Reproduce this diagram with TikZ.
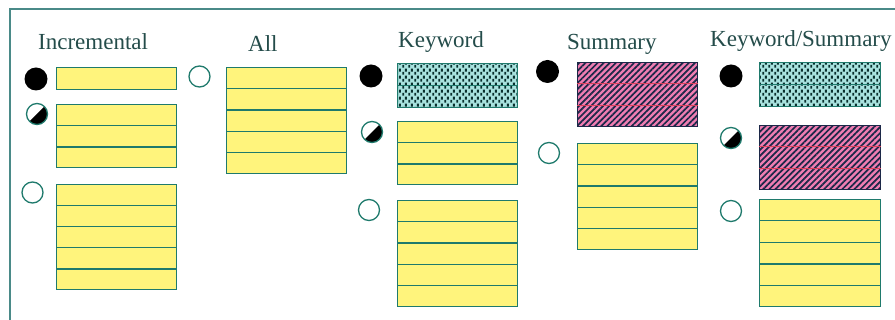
\documentclass[tikz,border=0pt]{standalone}
\usepackage{fontspec}
\setmainfont{Liberation Serif}
\usetikzlibrary{patterns,patterns.meta,calc}
\definecolor{boxfill}{HTML}{FFF47C}
\definecolor{edge}{HTML}{1F7A6C}
\definecolor{txtc}{HTML}{244C4A}
\definecolor{framec}{HTML}{4A8A88}
\definecolor{kwcyan}{HTML}{A8E2DE}
\definecolor{kwdot}{HTML}{082E2C}
\definecolor{pinkc}{HTML}{F07DB2}
\definecolor{sline}{HTML}{1C2848}
\definecolor{sdiv}{HTML}{D8405A}
\pgfdeclarepatternformonly{kwdots}{\pgfqpoint{0pt}{0pt}}{\pgfqpoint{6pt}{7pt}}{\pgfqpoint{6pt}{7pt}}{%
  \pgfpathrectangle{\pgfqpoint{0.4pt}{0.3pt}}{\pgfqpoint{2.2pt}{3.3pt}}%
  \pgfpathrectangle{\pgfqpoint{3.4pt}{3.8pt}}{\pgfqpoint{2.2pt}{3.3pt}}%
  \pgfusepath{fill}}
\newcommand\rowsplit[3]{%
  \pgfmathtruncatemacro\rsn{#2-1}%
  \foreach \i in {1,...,\rsn}{\draw[#3] ($(#1.north west)!\i/#2!(#1.south west)$) -- ($(#1.north east)!\i/#2!(#1.south east)$);}}
\tikzset{
  lbl/.style={anchor=base west, inner sep=0, text=txtc, font=\fontsize{23}{27}\selectfont},
  dot/.style={circle, minimum size=21pt, inner sep=0},
  fullc/.style={dot, fill=black, minimum size=23pt},
  openc/.style={dot, draw=edge, line width=1.3pt},
  halfc/.style={dot, draw=edge, line width=1.3pt, path picture={\fill[black] (path picture bounding box.north east) -- (path picture bounding box.south west) -- (path picture bounding box.south east) -- cycle;}},
  boxbase/.style={rectangle, draw=edge, line width=1.3pt, minimum width=120pt, inner sep=0, anchor=north west},
  ybox/.style={boxbase, fill=boxfill},
  kbox/.style={boxbase, preaction={fill=kwcyan}, preaction={pattern=kwdots, pattern color=kwdot}},
  sbox/.style={boxbase, draw=sline, preaction={fill=pinkc}, preaction={pattern={Lines[angle=45,distance=4.3pt,line width=1.7pt]}, pattern color=sline}},
  rowline/.style={draw=edge, line width=1.3pt},
  srowline/.style={draw=sdiv, line width=1pt},
}
\begin{document}
\begin{tikzpicture}[x=1pt,y=-1pt]
\useasboundingbox (0,0) rectangle (895,320);
\draw[framec, line width=1.2pt] (10,320) -- (10,9) -- (895,9);
% labels
\node[lbl] (tinc) at (38,50) {Incremental};
\node[lbl] (tall) at (248,52) {All};
\node[lbl] (tkw) at (398,48) {Keyword};
\node[lbl] (tsum) at (567,50) {Summary};
\node[lbl] (tks) at (710,47) {Keyword/Summary};
% Incremental
\node[fullc] (i1) at (36,79) {};
\node[halfc] (i2) at (37,114) {};
\node[openc] (i3) at (32.5,192.5) {};
\node[ybox, minimum height=22pt] (ib1) at (56,67) {};
\node[ybox, minimum height=63pt] (ib2) at (56,104) {};
\rowsplit{ib2}{3}{rowline}
\node[ybox, minimum height=105pt] (ib3) at (56,184) {};
\rowsplit{ib3}{5}{rowline}
% All
\node[openc] (a1) at (199.5,76.5) {};
\node[ybox, minimum height=106pt] (ab1) at (226,67) {};
\rowsplit{ab1}{5}{rowline}
% Keyword
\node[fullc] (k1) at (371,76) {};
\node[halfc] (k2) at (372,132) {};
\node[openc] (k3) at (369,210) {};
\node[kbox, minimum height=44pt] (kb1) at (397,63) {};
\rowsplit{kb1}{2}{rowline}
\node[ybox, minimum height=63pt] (kb2) at (397,121) {};
\rowsplit{kb2}{3}{rowline}
\node[ybox, minimum height=106pt] (kb3) at (397,200) {};
\rowsplit{kb3}{5}{rowline}
% Summary
\node[fullc] (s1) at (547.5,71.5) {};
\node[openc] (s2) at (549,153) {};
\node[sbox, minimum height=64pt] (sb1) at (577,62) {};
\rowsplit{sb1}{3}{srowline}
\node[ybox, minimum height=106pt] (sb2) at (577,143) {};
\rowsplit{sb2}{5}{rowline}
% Keyword/Summary
\node[fullc] (ks1) at (731,76) {};
\node[halfc] (ks2) at (731,138) {};
\node[openc] (ks3) at (731,211) {};
\node[kbox, minimum height=44pt, minimum width=121pt] (ksb1) at (759,62) {};
\rowsplit{ksb1}{2}{rowline}
\node[sbox, minimum height=64pt, minimum width=121pt] (ksb2) at (759,125) {};
\rowsplit{ksb2}{3}{srowline}
\node[ybox, minimum height=107pt, minimum width=121pt] (ksb3) at (759,199) {};
\rowsplit{ksb3}{5}{rowline}
\end{tikzpicture}
\end{document}
